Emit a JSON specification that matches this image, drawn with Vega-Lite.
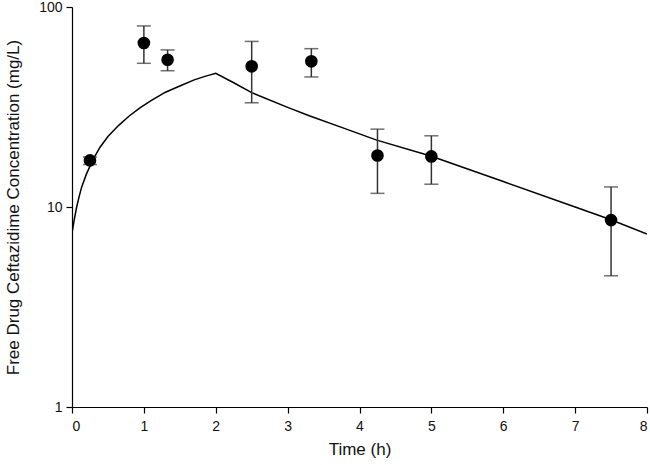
{
  "$schema": "https://vega.github.io/schema/vega-lite/v6.json",
  "width": 575,
  "height": 400,
  "autosize": {"type": "none"},
  "padding": {"left": 72, "top": 7, "right": 3, "bottom": 58},
  "background": "white",
  "config": {
    "view": {"stroke": null},
    "axis": {
      "grid": false,
      "domainColor": "#000",
      "tickColor": "#000",
      "labelColor": "#111",
      "titleColor": "#111",
      "labelFont": "Liberation Sans",
      "titleFont": "Liberation Sans",
      "labelFontSize": 14,
      "titleFontSize": 17,
      "titleFontWeight": "normal",
      "tickSize": 6,
      "domainWidth": 1.2,
      "tickWidth": 1.2
    }
  },
  "datasets": {
    "obs": [
      {"time": 0.25, "conc": 17.1, "lo": 16.3, "hi": 17.8},
      {"time": 1.0, "conc": 66.1, "lo": 52.3, "hi": 80.4},
      {"time": 1.33, "conc": 54.5, "lo": 48.0, "hi": 61.0},
      {"time": 2.5, "conc": 50.5, "lo": 33.2, "hi": 67.3},
      {"time": 3.33, "conc": 53.5, "lo": 44.7, "hi": 61.9},
      {"time": 4.25, "conc": 18.1, "lo": 11.7, "hi": 24.5},
      {"time": 5.0, "conc": 17.9, "lo": 13.0, "hi": 22.7},
      {"time": 7.5, "conc": 8.6, "lo": 4.53, "hi": 12.6}
    ],
    "model": [
      {"time": 0.0, "conc": 7.4},
      {"time": 0.03, "conc": 8.6},
      {"time": 0.065, "conc": 10.0},
      {"time": 0.1, "conc": 11.3},
      {"time": 0.135, "conc": 12.6},
      {"time": 0.2, "conc": 14.6},
      {"time": 0.29, "conc": 17.2},
      {"time": 0.39, "conc": 19.9},
      {"time": 0.5, "conc": 22.5},
      {"time": 0.65, "conc": 25.6},
      {"time": 0.8, "conc": 28.6},
      {"time": 0.95, "conc": 31.4},
      {"time": 1.1, "conc": 34.0},
      {"time": 1.3, "conc": 37.5},
      {"time": 1.5, "conc": 40.3},
      {"time": 1.7, "conc": 43.2},
      {"time": 1.85, "conc": 45.0},
      {"time": 2.0, "conc": 46.6},
      {"time": 2.25, "conc": 41.8},
      {"time": 2.5, "conc": 37.3},
      {"time": 3.0, "conc": 31.5},
      {"time": 3.31, "conc": 28.5},
      {"time": 3.75, "conc": 25.0},
      {"time": 4.24, "conc": 21.6},
      {"time": 4.99, "conc": 18.0},
      {"time": 6.0, "conc": 13.4},
      {"time": 7.0, "conc": 10.0},
      {"time": 7.48, "conc": 8.68},
      {"time": 8.0, "conc": 7.33}
    ]
  },
  "layer": [
    {
      "data": {"name": "model"},
      "mark": {"type": "line", "color": "#000", "strokeWidth": 1.5, "clip": true},
      "encoding": {
        "x": {"field": "time", "type": "quantitative", "scale": {"domain": [0, 8], "nice": false},
          "axis": {"title": "Time (h)", "values": [0,1,2,3,4,5,6,7,8], "format": "d", "titlePadding": 8, "labelPadding": 6, "titleFontWeight": "normal"}},
        "y": {"field": "conc", "type": "quantitative", "scale": {"type": "log", "domain": [1, 100], "nice": false},
          "axis": {"title": "Free Drug Ceftazidime Concentration (mg/L)", "values": [1, 10, 100], "format": "d", "titlePadding": 16, "labelPadding": 4, "titleFontWeight": "normal"}}
      }
    },
    {
      "data": {"name": "obs"},
      "mark": {"type": "rule", "color": "#333", "strokeWidth": 1.5},
      "encoding": {
        "x": {"field": "time", "type": "quantitative"},
        "y": {"field": "lo", "type": "quantitative"},
        "y2": {"field": "hi"}
      }
    },
    {
      "data": {"name": "obs"},
      "mark": {"type": "tick", "orient": "horizontal", "color": "#333", "size": 14, "thickness": 1.5},
      "encoding": {
        "x": {"field": "time", "type": "quantitative"},
        "y": {"field": "lo", "type": "quantitative"}
      }
    },
    {
      "data": {"name": "obs"},
      "mark": {"type": "tick", "orient": "horizontal", "color": "#333", "size": 14, "thickness": 1.5},
      "encoding": {
        "x": {"field": "time", "type": "quantitative"},
        "y": {"field": "hi", "type": "quantitative"}
      }
    },
    {
      "data": {"name": "obs"},
      "mark": {"type": "circle", "color": "#000", "opacity": 1, "size": 160},
      "encoding": {
        "x": {"field": "time", "type": "quantitative"},
        "y": {"field": "conc", "type": "quantitative"}
      }
    }
  ]
}
